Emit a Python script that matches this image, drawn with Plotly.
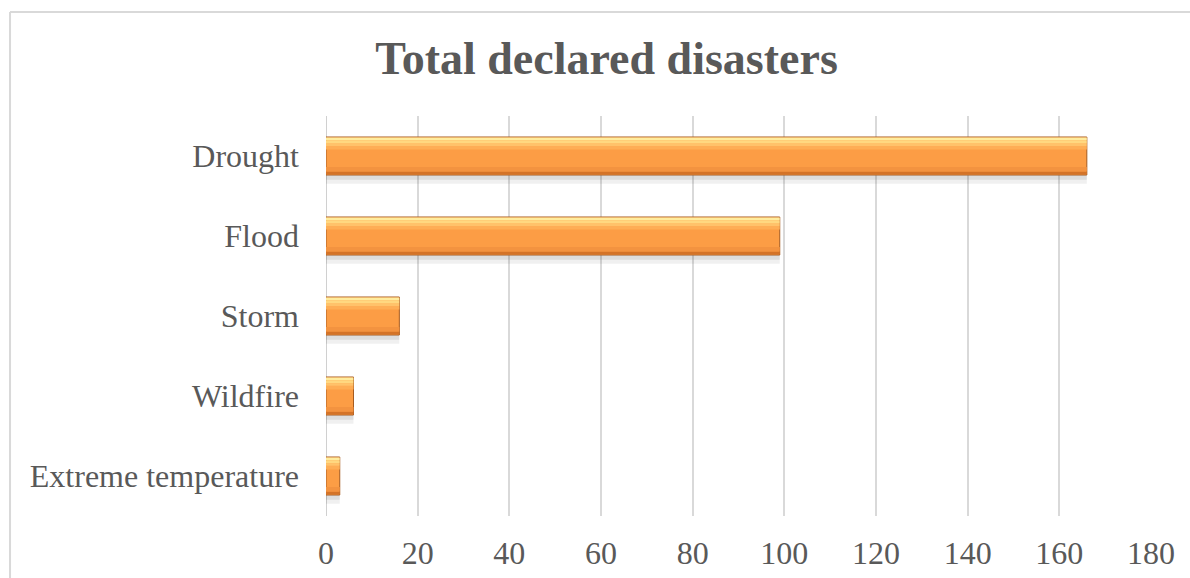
import plotly.graph_objects as go

categories = ["Drought", "Flood", "Storm", "Wildfire", "Extreme temperature"]
values = [166, 99, 16, 6, 3]
tick_values = [0, 20, 40, 60, 80, 100, 120, 140, 160, 180]

W = 0.475  # bar thickness in category units

fig = go.Figure()

def layer(color, off, width, line=None):
    fig.add_trace(go.Bar(
        y=categories, x=values, orientation="h",
        offset=off, width=width,
        marker=dict(color=color, line=line or dict(width=0)),
        hoverinfo="skip", showlegend=False,
    ))

# soft shadow
layer("rgba(0,0,0,0.06)", -W / 2 + 0.03, W + 0.08)
layer("rgba(0,0,0,0.08)", -W / 2 + 0.02, W + 0.04)
# main bar body
layer("#FC9D45", -W / 2, W, dict(color="#A65B20", width=1))
# top highlight gradient
layer("#FFEC9E", -W / 2 + 0.006, 0.035)
layer("#FFD880", -W / 2 + 0.041, 0.035)
layer("#FFC26A", -W / 2 + 0.076, 0.035)
layer("#FEAD55", -W / 2 + 0.111, 0.045)
# lower darker band
layer("#F39340", W / 2 - 0.1, 0.06)
layer("#D47328", W / 2 - 0.04, 0.034)

fig.update_layout(
    width=1190, height=578,
    margin=dict(l=326, r=39, t=116, b=62, autoexpand=False),
    paper_bgcolor="white", plot_bgcolor="white",
    barmode="overlay",
    font=dict(family="Liberation Serif", size=32, color="#595959"),
    title=dict(
        text="Total declared disasters",
        x=606.5 / 1190, xanchor="center", xref="container",
        y=1 - 58 / 578, yanchor="middle", yref="container",
        font=dict(family="Liberation Serif", size=46, color="#595959", weight="bold"),
    ),
    xaxis=dict(
        range=[0, 180], tickvals=tick_values,
        showgrid=True, gridcolor="#D9D9D9", gridwidth=1.5,
        zeroline=False, showline=False, ticks="",
        ticklabelstandoff=15, automargin=False,
        tickfont=dict(size=32, color="#595959"),
        fixedrange=True,
    ),
    yaxis=dict(
        autorange="reversed", categoryorder="array", categoryarray=categories,
        showgrid=False, zeroline=False, showline=False, ticks="",
        ticklabelstandoff=26, automargin=False,
        tickfont=dict(size=32, color="#595959"),
        fixedrange=True,
    ),
    shapes=[
        dict(type="line", xref="paper", yref="paper", x0=-0.383, x1=-0.383, y0=-0.3, y1=1.26,
             line=dict(color="#D9D9D9", width=2)),
        dict(type="line", xref="paper", yref="paper", x0=-0.383, x1=1.2, y0=1.26, y1=1.26,
             line=dict(color="#D9D9D9", width=2)),
        dict(type="line", xref="x", yref="paper", x0=0, x1=0, y0=0, y1=1,
             line=dict(color="#D0D0D0", width=2), layer="below"),
    ],
)

fig.write_html("out.html")
